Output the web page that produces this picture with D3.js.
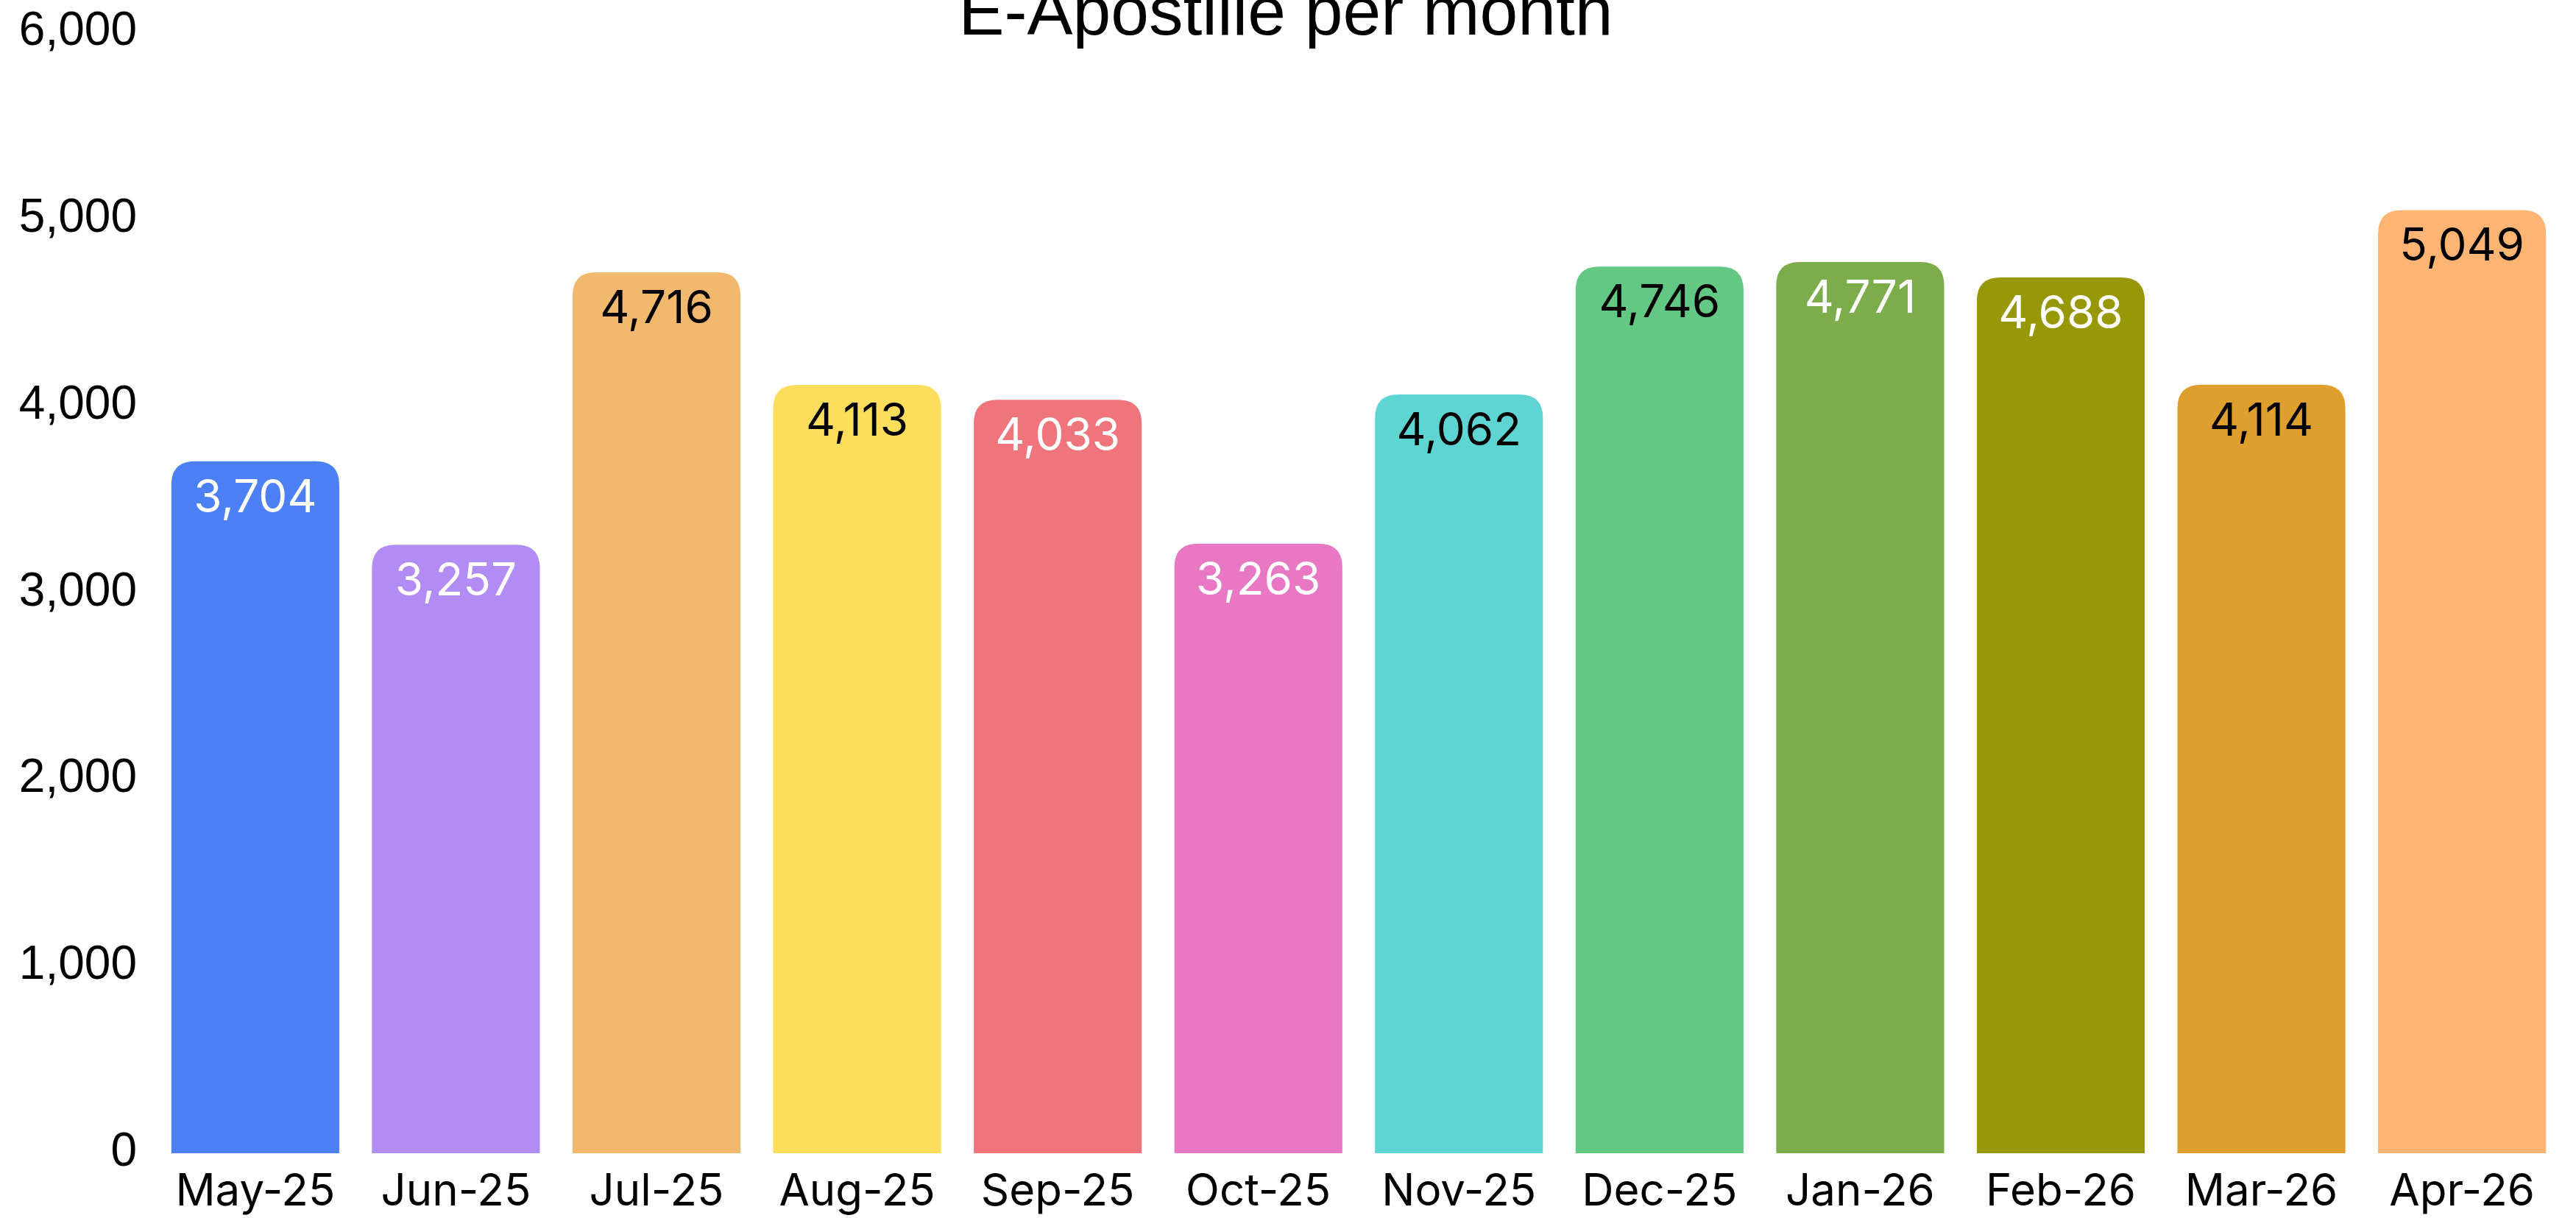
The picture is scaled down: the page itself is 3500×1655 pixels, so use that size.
<!DOCTYPE html>
<html>
<head>
<meta charset="utf-8">
<script src="https://cdn.jsdelivr.net/npm/d3@7"></script>
<style>
  body { margin: 0; background: #fff; }
  svg { display: block; }
</style>
</head>
<body>
<div class="chart"></div>
<script>
// e-apostille counts per month
const months = ['May-25', 'Jun-25', 'Jul-25', 'Aug-25', 'Sep-25', 'Oct-25', 'Nov-25', 'Dec-25', 'Jan-26', 'Feb-26', 'Mar-26', 'Apr-26'];
const counts = [3704, 3257, 4716, 4113, 4033, 3263, 4062, 4746, 4771, 4688, 4114, 5049];
const barColors = ['#4d80f7', '#b08cf4', '#f2b86e', '#fdde5c', '#ef747c', '#e878c3', '#5ed5d3', '#62c883', '#7dad4a', '#979808', '#df9f2e', '#feb574'];
const labelColors = ['#fff', '#fff', '#000', '#000', '#fff', '#fff', '#000', '#000', '#fff', '#fff', '#000', '#000'];
const yTicks = [0, 1000, 2000, 3000, 4000, 5000, 6000];

const width = 3500;
const height = 1655;
const margin = { top: 44, right: 19, bottom: 88, left: 211 };
const fontFamily = 'Inter, "Noto Sans", sans-serif';
const arialLike = '"Liberation Sans", Arial, sans-serif';
const radius = 32;

const svg = d3.select('.chart')
  .append('svg')
  .attr('width', width)
  .attr('height', height);

const x = d3.scaleBand()
  .domain(months)
  .range([margin.left, width - margin.right])
  .paddingInner(0.163)
  .paddingOuter(0.08);

const y = d3.scaleLinear()
  .domain([0, 6000])
  .range([height - margin.bottom, margin.top]);

const fmt = d3.format(',');

// bars with rounded tops only
function topRounded(x0, y0, w, h, r) {
  r = Math.min(r, h, w / 2);
  return `M${x0},${y0 + h}V${y0 + r}Q${x0},${y0} ${x0 + r},${y0}H${x0 + w - r}Q${x0 + w},${y0} ${x0 + w},${y0 + r}V${y0 + h}Z`;
}

const data = months.map((m, i) => ({ month: m, value: counts[i], color: barColors[i], label: labelColors[i] }));

svg.append('g')
  .selectAll('path')
  .data(data)
  .enter()
  .append('path')
  .attr('fill', d => d.color)
  .attr('d', d => topRounded(x(d.month), y(d.value), x.bandwidth(), y(0) - y(d.value), radius));

// value labels inside bar tops
svg.append('g')
  .selectAll('text')
  .data(data)
  .enter()
  .append('text')
  .attr('x', d => x(d.month) + x.bandwidth() / 2)
  .attr('y', d => y(d.value) + 69)
  .attr('text-anchor', 'middle')
  .style('font-family', fontFamily)
  .style('font-size', '62px')
  .style('fill', d => d.label)
  .text(d => fmt(d.value));

// y axis, no line or ticks
const yAxis = svg.append('g')
  .attr('transform', `translate(${margin.left - 25},0)`)
  .call(d3.axisLeft(y).tickValues(yTicks).tickFormat(fmt).tickSize(0).tickPadding(0));
yAxis.select('.domain').remove();
yAxis.selectAll('text')
  .attr('dy', '0.26em')
  .style('font-family', arialLike)
  .style('font-size', '64px')
  .style('fill', '#000');

// x axis
const xAxis = svg.append('g')
  .attr('transform', `translate(0,${y(0)})`)
  .call(d3.axisBottom(x).tickSize(0).tickPadding(28));
xAxis.select('.domain').remove();
xAxis.selectAll('text')
  .style('font-family', fontFamily)
  .style('font-size', '60px')
  .style('fill', '#000');

svg.append('text')
  .attr('x', 1747)
  .attr('y', 47)
  .attr('text-anchor', 'middle')
  .style('font-family', arialLike)
  .style('font-size', '93px')
  .style('fill', '#000')
  .text('E-Apostille per month');
</script>
</body>
</html>
